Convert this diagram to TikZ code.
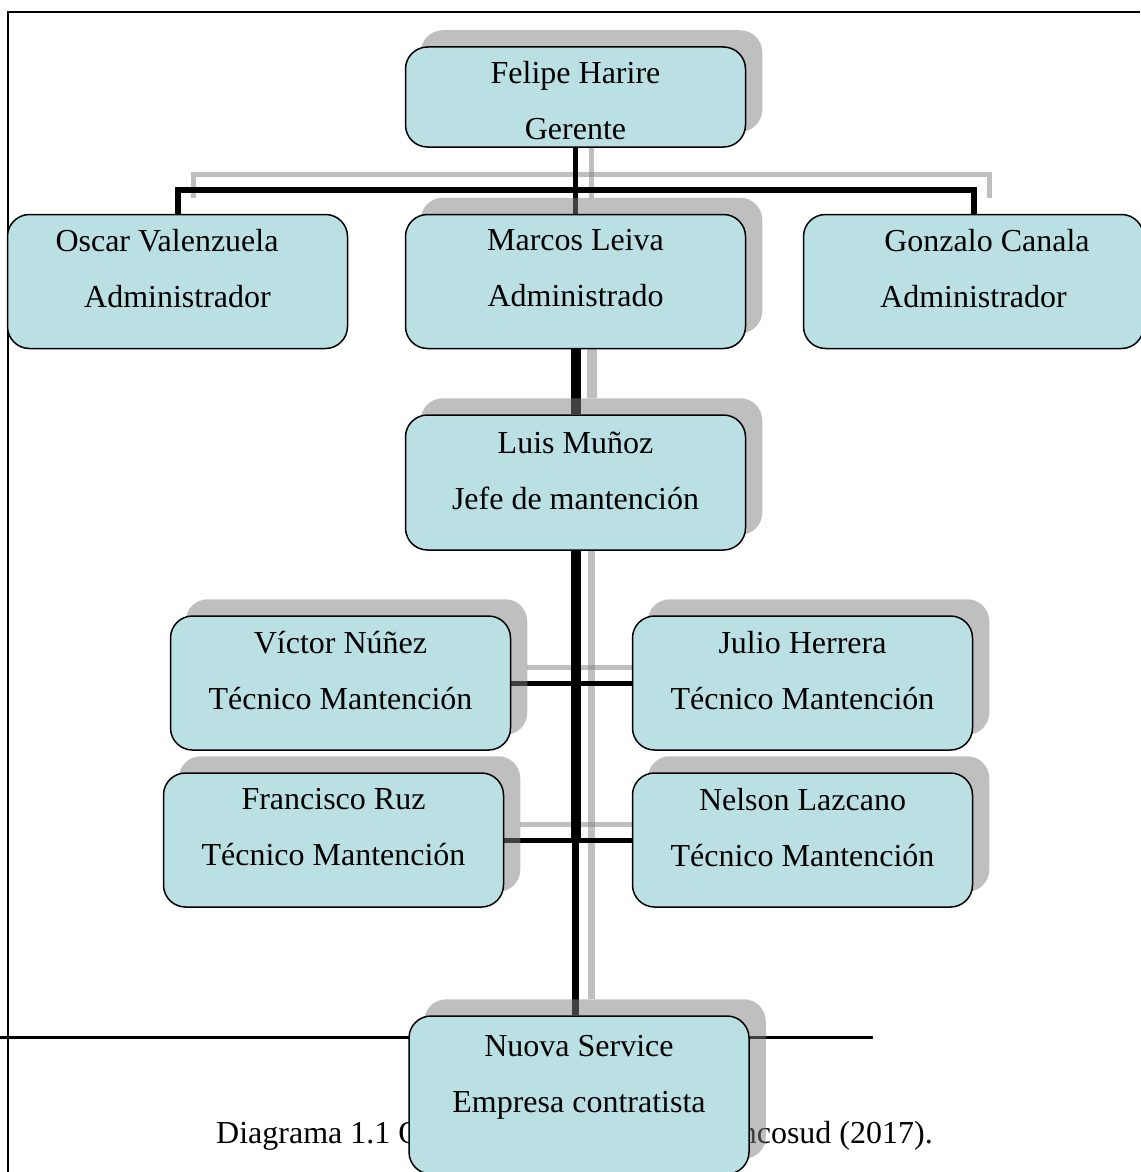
\documentclass[tikz,border=0pt]{standalone}
\usepackage{fontspec}
\setmainfont{Liberation Serif}
\usepackage{tikz}
\usetikzlibrary{positioning,backgrounds}
\definecolor{unitblue}{RGB}{187,224,228}
\definecolor{shadowgray}{RGB}{128,128,128}
\tikzset{
  unit/.style={draw,line width=1.5pt,rounded corners=22pt,fill=unitblue,minimum width=340pt,minimum height=134pt,inner sep=0pt},
  unittext/.style={font=\fontsize{32}{56}\selectfont,align=center,inner sep=0pt},
  capt/.style={font=\fontsize{32}{40}\selectfont,inner sep=0pt},
  conn/.style={line width=5pt},
  connshadow/.style={draw=shadowgray,draw opacity=0.5,line width=5pt},
  boxshadow/.style={fill=shadowgray,fill opacity=0.5,rounded corners=22pt},
}

\begin{document}
\begin{tikzpicture}[x=1pt,y=-1pt]
\useasboundingbox (0,0) rectangle (1140,1172);
% boxes
\node[unit,minimum height=100pt] (gerente) at (575.5,97) {};
\node[unit] (admin1) at (177.5,281.5) {};
\node[unit] (admin2) at (575.5,281.5) {};
\node[unit] (admin3) at (973.5,281.5) {};
\node[unit,minimum height=135pt] (jefe) at (575.5,482.5) {};
\node[unit] (tec1) at (340.5,683) {};
\node[unit] (tec2) at (802.5,683) {};
\node[unit] (tec3) at (333.5,840) {};
\node[unit] (tec4) at (802.5,840) {};
\node[unit,minimum height=158pt] (contr) at (579,1095) {};
% names
\node[unittext,below=15pt of gerente.north] (gerente-t) {Felipe Harire\\Gerente};
\node[unittext,below=15pt of admin1.north] (admin1-t) {\hspace*{-21pt}Oscar Valenzuela\\Administrador};
\node[unittext,below=15pt of admin2.north] (admin2-t) {Marcos Leiva\\Administrado};
\node[unittext,below=15pt of admin3.north] (admin3-t) {\hspace*{27pt}Gonzalo Canala\\Administrador};
\node[unittext,below=17pt of jefe.north] (jefe-t) {Luis Muñoz\\Jefe de mantención};
\node[unittext,below=16pt of tec1.north] (tec1-t) {Víctor Núñez\\Técnico Mantención};
\node[unittext,below=16pt of tec2.north] (tec2-t) {Julio Herrera\\Técnico Mantención};
\node[unittext,below=16pt of tec3.north] (tec3-t) {Francisco Ruz\\Técnico Mantención};
\node[unittext,below=16pt of tec4.north] (tec4-t) {Nelson Lazcano\\Técnico Mantención};
\node[unittext,below=20pt of contr.north] (contr-t) {Nuova Service\\Empresa contratista};

\begin{scope}[on background layer]
% page rules and caption
\draw[line width=2pt] (1140,12) -- (8,12) -- (8,1172);
\draw[line width=2.5pt] (0,1037.5) -- (873,1037.5);
\node[capt,anchor=base west] (cap-l) at (216,1143) {Diagrama 1.1 O};
\node[capt,anchor=base east] (cap-r) at (933,1143) {ncosud (2017).};
\coordinate (bus) at (575.5,190);
\coordinate (fork) at (jefe.south |- tec3.east);
% connector shadows
\begin{scope}[transform canvas={xshift=16pt,yshift=16pt}]
\draw[connshadow] (gerente) -- (admin2);
\draw[connshadow] (admin1.north) |- (bus) -| (admin3.north);
\draw[connshadow,line width=10pt] (admin2) -- (jefe);
\draw[connshadow,line width=7pt] (jefe.south) -- (jefe.south |- contr.north);
\draw[connshadow] (tec1) -- (tec2);
\draw[connshadow] (tec3) -- (tec4);
\end{scope}
% connectors
\draw[conn] (gerente) -- (admin2);
\draw[conn,line width=6pt] (admin1.north) |- (bus) -| (admin3.north);
\draw[conn,line width=10pt] (admin2) -- (jefe);
\draw[conn,line width=10pt] (jefe.south) -- (fork);
\draw[conn,line width=7pt] (jefe.south) -- (jefe.south |- contr.north);
\draw[conn] (tec1) -- (tec2);
\draw[conn] (tec3) -- (tec4);
% box shadows
\foreach \n in {gerente,admin2,jefe,tec1,tec2,tec3,tec4,contr}
  \fill[boxshadow] ([xshift=16pt,yshift=16pt]\n.south west) rectangle ([xshift=16pt,yshift=16pt]\n.north east);
\end{scope}
\end{tikzpicture}
\end{document}
